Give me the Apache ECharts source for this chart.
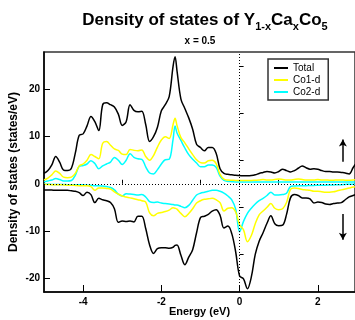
<!DOCTYPE html>
<html><head><meta charset="utf-8">
<script src="https://cdn.jsdelivr.net/npm/echarts@6/dist/echarts.min.js"></script>
<style>html,body{margin:0;padding:0;background:#fff}#c{width:355px;height:320px}</style>
</head><body><div id="c"></div>
<script>
const energies = [-5.0,-4.9,-4.8,-4.7,-4.6,-4.5,-4.4,-4.3,-4.2,-4.1,
 -4.0,-3.9,-3.8,-3.7,-3.6,-3.5,-3.4,-3.3,-3.2,-3.1,
 -3.0,-2.9,-2.8,-2.7,-2.6,-2.5,-2.4,-2.3,-2.2,-2.1,
 -2.0,-1.9,-1.8,-1.7,-1.65,-1.6,-1.5,-1.4,-1.3,-1.2,
 -1.1,-1.0,-0.9,-0.8,-0.7,-0.6,-0.5,-0.4,-0.3,-0.2,
 -0.1,0.0,0.1,0.2,0.3,0.4,0.5,0.6,0.7,0.8,
 0.9,1.0,1.1,1.2,1.3,1.4,1.5,1.6,1.7,1.8,
 1.9,2.0,2.1,2.2,2.3,2.4,2.5,2.6,2.7,2.8,2.9,3.0];
const totalUp = [2.2,2.8,4.0,5.8,4.6,2.9,2.8,3.3,6.5,10.3,
 10.6,12.3,14.3,13.2,11.3,16.8,17.2,16.8,16.3,14.8,
 12.4,13.2,16.8,15.6,15.3,15.4,12.6,9.0,10.0,12.0,
 15.5,16.8,18.5,25.0,27.0,24.0,18.0,16.0,14.0,11.6,
 8.4,7.7,7.0,7.7,7.7,6.5,3.2,2.2,2.0,1.9,
 1.8,1.75,1.7,1.7,1.75,1.9,2.2,2.4,2.6,2.5,
 2.3,2.6,3.1,2.8,2.5,2.8,3.3,3.8,3.4,3.1,
 3.2,3.1,2.8,2.6,2.6,2.5,2.5,2.4,2.3,2.1,3.4,4.6];
const co1Up = [0.8,1.2,1.9,2.7,2.2,1.4,1.3,1.4,2.2,3.8,
 4.2,5.0,6.2,5.8,5.3,8.6,9.0,8.2,7.4,7.1,
 6.3,6.2,7.3,7.1,7.0,7.2,5.8,5.0,6.0,7.8,
 9.3,10.0,9.6,12.6,13.9,12.4,9.8,8.7,7.4,6.2,
 5.1,4.5,4.4,4.9,5.0,4.3,2.0,1.0,0.8,0.75,
 0.7,0.7,0.7,0.7,0.7,0.75,0.8,0.9,0.8,0.8,
 0.9,1.0,0.9,0.8,0.8,0.9,1.0,0.9,0.8,0.8,
 0.8,0.9,0.8,0.8,0.75,0.75,0.8,0.8,0.75,0.75,0.8,0.9];
const co2Up = [0.4,0.6,0.8,1.1,0.9,0.6,0.6,0.7,1.8,3.7,
 3.9,4.2,4.9,4.3,3.2,3.8,4.2,4.6,5.6,5.0,
 4.1,5.0,6.4,5.6,5.3,5.2,3.6,2.3,2.1,3.0,
 4.2,5.1,5.2,9.5,12.3,10.8,9.2,7.6,6.2,5.2,
 4.4,3.6,3.6,4.0,4.0,3.5,1.6,0.7,0.5,0.45,
 0.4,0.4,0.35,0.35,0.35,0.35,0.4,0.4,0.35,0.35,
 0.4,0.4,0.35,0.35,0.35,0.4,0.4,0.4,0.35,0.35,
 0.35,0.35,0.35,0.35,0.35,0.35,0.35,0.35,0.35,0.35,0.35,0.35];
const totalDn = [-1.3,-1.3,-1.35,-1.4,-1.4,-1.4,-1.4,-1.5,-1.6,-1.9,
 -2.5,-1.8,-2.3,-4.0,-3.1,-3.4,-3.6,-4.0,-5.3,-8.2,
 -7.9,-8.0,-7.9,-8.1,-6.9,-6.9,-9.5,-13.0,-14.8,-13.8,
 -13.6,-13.6,-13.7,-13.5,-13.1,-13.0,-15.2,-17.2,-15.6,-14.0,
 -10.4,-7.2,-6.9,-6.5,-5.8,-5.5,-6.7,-9.4,-9.0,-10.6,
 -14.5,-19.6,-20.2,-22.3,-19.8,-15.0,-12.2,-10.4,-8.4,-6.8,
 -8.5,-8.9,-8.8,-6.5,-3.0,-2.3,-2.5,-3.0,-3.0,-3.2,
 -4.1,-3.9,-4.0,-4.3,-4.4,-4.2,-4.1,-4.0,-3.4,-2.8,-2.5,-2.2];
const co1Dn = [-0.1,-0.15,-0.2,-0.2,-0.2,-0.25,-0.3,-0.3,-0.35,-0.4,
 -0.4,-0.4,-0.6,-1.4,-0.9,-0.9,-1.0,-1.1,-1.7,-2.2,
 -2.6,-2.8,-3.0,-3.2,-3.4,-3.6,-3.9,-6.2,-6.8,-6.3,
 -6.1,-5.9,-5.6,-5.1,-5.2,-5.4,-6.3,-7.0,-6.3,-5.3,
 -4.1,-3.6,-3.3,-3.2,-3.1,-3.4,-4.0,-5.8,-5.2,-5.1,
 -6.0,-8.7,-9.8,-12.3,-11.0,-8.5,-6.6,-5.8,-5.0,-4.2,
 -5.2,-5.5,-5.3,-4.0,-1.2,-0.9,-1.0,-1.2,-1.3,-1.4,
 -1.6,-1.6,-1.7,-1.8,-1.8,-1.7,-1.5,-1.3,-1.1,-0.9,-0.7,-0.6];
const co2Dn = [-0.1,-0.1,-0.15,-0.15,-0.15,-0.15,-0.2,-0.2,-0.2,-0.2,
 -0.2,-0.3,-0.3,-0.4,-0.4,-0.5,-0.6,-0.8,-1.3,-2.2,
 -2.6,-2.1,-2.2,-2.3,-2.4,-2.3,-2.8,-3.8,-4.0,-3.9,
 -4.1,-4.2,-4.3,-4.4,-4.5,-4.5,-4.8,-5.1,-4.6,-3.5,
 -2.4,-2.0,-1.8,-1.6,-1.4,-1.4,-1.6,-2.0,-2.6,-3.4,
 -5.4,-10.2,-8.0,-6.3,-5.2,-4.3,-3.6,-3.1,-2.5,-1.8,
 -2.4,-2.4,-2.3,-2.0,-0.6,-0.45,-0.4,-0.4,-0.4,-0.35,
 -0.35,-0.3,-0.3,-0.3,-0.25,-0.25,-0.2,-0.2,-0.15,-0.1,-0.1,-0.05];
const xMajorTicks = [-4,-2,0,2];
const xMinorTicks = [-3,-1,1];
const yMajorTicks = [-20,-10,0,10,20];
const yMinorTicks = [-15,-5,5,15,25];
const legendNames = ['Total','Co1-d','Co2-d'];
const upArrow = [[2.64,4.7],[2.64,9.4]];
const downArrow = [[2.64,-6.4],[2.64,-11.9]];

const F = 'Liberation Sans, Arial, Helvetica, sans-serif';
const pairs = a => energies.map((e,i)=>[e,a[i]]);
const chart = echarts.init(document.getElementById('c'), null, {renderer:'canvas'});
const XMIN=-5, XMAX=2.95, YMIN=-23, YMAX=28;
function line(name, data, color, extra){
  return Object.assign({type:'line', name, data:pairs(data), symbol:'none', smooth:0.35,
    xAxisIndex:0, yAxisIndex:0, lineStyle:{color, width:1.5}, itemStyle:{color}, z:3, silent:true}, extra||{});
}
chart.setOption({
  animation:false,
  backgroundColor:'#fff',
  title:[
    {text:'{a|Density of states of Y}{s|1-x}{a|Ca}{s|x}{a|Co}{s|5}', left:200, top:2, textAlign:'center',
     textStyle:{rich:{
       a:{fontFamily:F, fontSize:17, fontWeight:'bold', color:'#000', lineHeight:22, verticalAlign:'bottom'},
       s:{fontFamily:F, fontSize:11, fontWeight:'bold', color:'#000', lineHeight:11, verticalAlign:'bottom', padding:[0,0,-3,0]}
     }}},
    {text:'x = 0.5', left:195, top:31, textAlign:'center',
     textStyle:{fontFamily:F, fontSize:10, fontWeight:'bold', color:'#000'}}
  ],
  legend:{data:legendNames, orient:'vertical', left:268, top:59, icon:'rect', itemWidth:14, itemHeight:2, itemGap:0,
    padding:[3,8,2,6], borderColor:'#333', borderWidth:1.5, backgroundColor:'#fff',
    textStyle:{fontFamily:F, fontSize:10, color:'#000', lineHeight:12}, z:10},
  grid:{left:44, right:0, top:52, bottom:28, show:true, borderColor:'#333', borderWidth:1.5,
    containLabel:false, outerBoundsMode:'none'},
  xAxis:[
    {type:'value', min:XMIN, max:XMAX, position:'bottom',
     name:'Energy (eV)', nameLocation:'middle', nameGap:14, nameMoveOverlap:false,
     nameTextStyle:{fontFamily:F, fontSize:11, fontWeight:'bold', color:'#000'},
     axisLine:{show:true, onZero:false, lineStyle:{color:'#000', width:1.5}},
     axisTick:{show:true, inside:true, length:7, customValues:xMajorTicks, lineStyle:{color:'#000', width:1}},
     axisLabel:{show:true, customValues:xMajorTicks, margin:5, fontFamily:F, fontSize:10, fontWeight:'bold', color:'#000'},
     splitLine:{show:false}},
    {type:'value', min:XMIN, max:XMAX, position:'bottom',
     axisLine:{show:false}, axisLabel:{show:false}, splitLine:{show:false},
     axisTick:{show:true, inside:true, length:4, customValues:xMinorTicks, lineStyle:{color:'#000', width:1}}}
  ],
  yAxis:[
    {type:'value', min:YMIN, max:YMAX, position:'left',
     name:'Density of states (states/eV)', nameLocation:'middle', nameGap:24, nameMoveOverlap:false,
     nameTextStyle:{fontFamily:F, fontSize:12, fontWeight:'bold', color:'#000'},
     axisLine:{show:true, onZero:false, lineStyle:{color:'#000', width:1.5}},
     axisTick:{show:true, inside:true, length:6, customValues:yMajorTicks, lineStyle:{color:'#000', width:1}},
     axisLabel:{show:true, customValues:yMajorTicks, margin:4, fontFamily:F, fontSize:10, fontWeight:'bold', color:'#000'},
     splitLine:{show:false}},
    {type:'value', min:YMIN, max:YMAX, position:'left',
     axisLine:{show:false}, axisLabel:{show:false}, splitLine:{show:false},
     axisTick:{show:true, inside:true, length:4, customValues:yMinorTicks, lineStyle:{color:'#000', width:1}}}
  ],
  series:[
    line('Co2-d', co2Up, '#00ffff'),
    line('Co1-d', co1Up, '#ffff00'),
    line('Total', totalUp, '#000000', {markLine:{silent:true, symbol:'none', animation:false,
      label:{show:false}, lineStyle:{color:'#000', width:1, type:[1,2]},
      data:[{yAxis:0},{xAxis:0}]}}),
    line('Co2-d', co2Dn, '#00ffff'),
    line('Co1-d', co1Dn, '#ffff00'),
    line('Total', totalDn, '#000000', {markLine:{silent:true, symbol:['none','arrow'], symbolSize:[6,7], animation:false,
      label:{show:false}, lineStyle:{color:'#000', width:1.5, type:'solid'},
      data:[[{coord:upArrow[0]},{coord:upArrow[1]}],[{coord:downArrow[0]},{coord:downArrow[1]}]]}})
  ]
});
</script></body></html>
